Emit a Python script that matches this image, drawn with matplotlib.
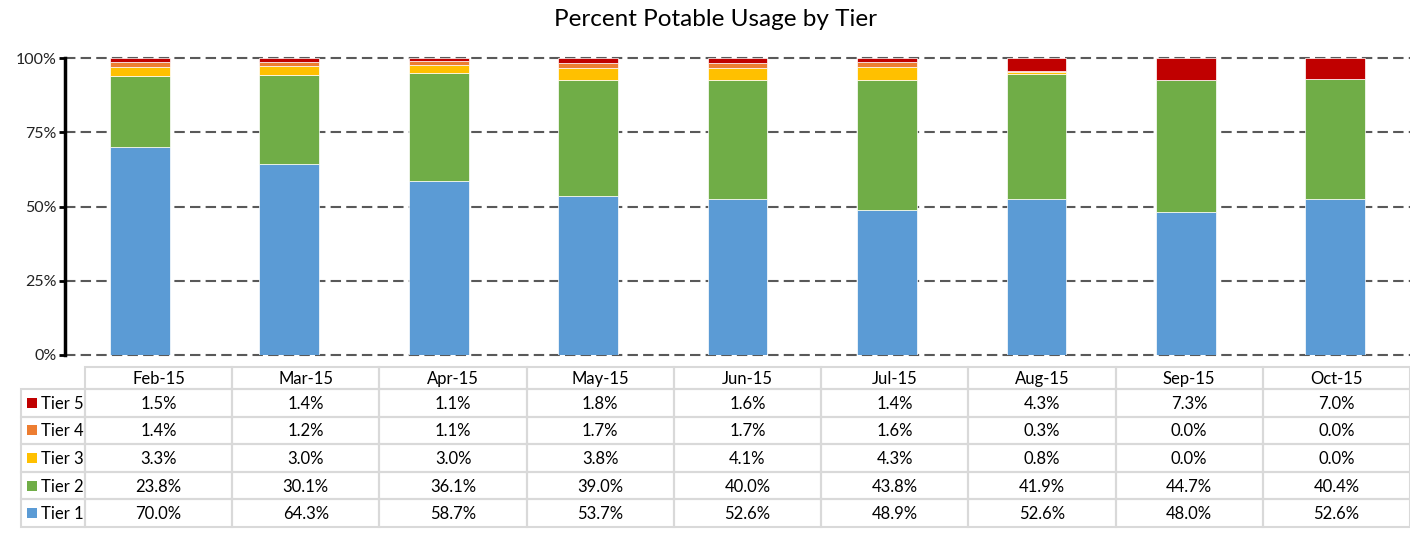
import numpy as np
import matplotlib.pyplot as plt
from matplotlib.patches import Rectangle

plt.rcParams['font.family'] = ['Lato', 'DejaVu Sans']

# data (percent of usage)
months = ["Feb-15", "Mar-15", "Apr-15", "May-15", "Jun-15", "Jul-15", "Aug-15", "Sep-15", "Oct-15"]
tier1 = [70.0, 64.3, 58.7, 53.7, 52.6, 48.9, 52.6, 48.0, 52.6]
tier2 = [23.8, 30.1, 36.1, 39.0, 40.0, 43.8, 41.9, 44.7, 40.4]
tier3 = [3.3, 3.0, 3.0, 3.8, 4.1, 4.3, 0.8, 0.0, 0.0]
tier4 = [1.4, 1.2, 1.1, 1.7, 1.7, 1.6, 0.3, 0.0, 0.0]
tier5 = [1.5, 1.4, 1.1, 1.8, 1.6, 1.4, 4.3, 7.3, 7.0]

tier_names = ["Tier 1", "Tier 2", "Tier 3", "Tier 4", "Tier 5"]
tier_colors = ["#5B9BD5", "#70AD47", "#FFC000", "#ED7D31", "#C00000"]
tiers = [tier1, tier2, tier3, tier4, tier5]

W, H = 1410, 534
fig = plt.figure(figsize=(W / 100, H / 100), dpi=100)

# chart area
ax = fig.add_axes([65 / W, 1 - 355 / H, 1 - 65 / W, (355 - 58) / H])
x = np.arange(len(months))
bottom = np.zeros(len(months))
for vals, col in zip(tiers, tier_colors):
    v = np.array(vals) / 100
    ax.bar(x, v, 0.4, bottom=bottom, color=col, edgecolor="white", linewidth=0.5, zorder=3)
    bottom += v

ax.set_xlim(-0.5, len(months) - 0.5)
ax.set_ylim(0, 1)
ax.set_yticks([0, 0.25, 0.5, 0.75, 1.0])
ax.set_yticklabels(["0%", "25%", "50%", "75%", "100%"], fontsize=11.5, color="#222222")
ax.set_xticks([])
ax.yaxis.grid(True, linestyle=(0, (5, 2.5)), color="#595959", linewidth=1.5)
for gl in ax.get_ygridlines():
    gl.set_clip_on(False)
ax.set_axisbelow(True)
for s in ["top", "right", "bottom"]:
    ax.spines[s].set_visible(False)
ax.spines["left"].set_linewidth(2.5)
ax.tick_params(axis="y", length=4, width=2, pad=2)

fig.text(715 / W, 1 - 19 / H, "Percent Potable Usage by Tier", ha="center", va="center", fontsize=17.5)

# data table under the chart, in pixel coords
tab = fig.add_axes([0, 0, 1, 1], facecolor="none")
tab.set_xlim(0, W)
tab.set_ylim(H, 0)
tab.axis("off")

lc = "#D9D9D9"
fs = 12
col_left, col0 = 21, 85
cw = (W - col0) / len(months)
head_top, head_bot = 367, 389
rh = (527 - head_bot) / 5

# header row
for i, m in enumerate(months):
    x0 = col0 + i * cw
    tab.add_patch(Rectangle((x0, head_top), cw, head_bot - head_top, fill=False, edgecolor=lc, lw=1.5))
    tab.text(x0 + cw / 2, (head_top + head_bot) / 2 + 1, m, ha="center", va="center", fontsize=fs)

# tier rows, tier 5 on top
for r, k in enumerate(range(4, -1, -1)):
    y0 = head_bot + r * rh
    tab.add_patch(Rectangle((col_left, y0), col0 - col_left, rh, fill=False, edgecolor=lc, lw=1.5))
    tab.add_patch(Rectangle((27, y0 + rh / 2 - 5), 10, 10, color=tier_colors[k], lw=0))
    tab.text(41, y0 + rh / 2 + 1, tier_names[k], ha="left", va="center", fontsize=fs)
    for i in range(len(months)):
        x0 = col0 + i * cw
        tab.add_patch(Rectangle((x0, y0), cw, rh, fill=False, edgecolor=lc, lw=1.5))
        tab.text(x0 + cw / 2, y0 + rh / 2 + 1, f"{tiers[k][i]:.1f}%", ha="center", va="center", fontsize=fs)

fig.savefig("out.png", dpi=100)
